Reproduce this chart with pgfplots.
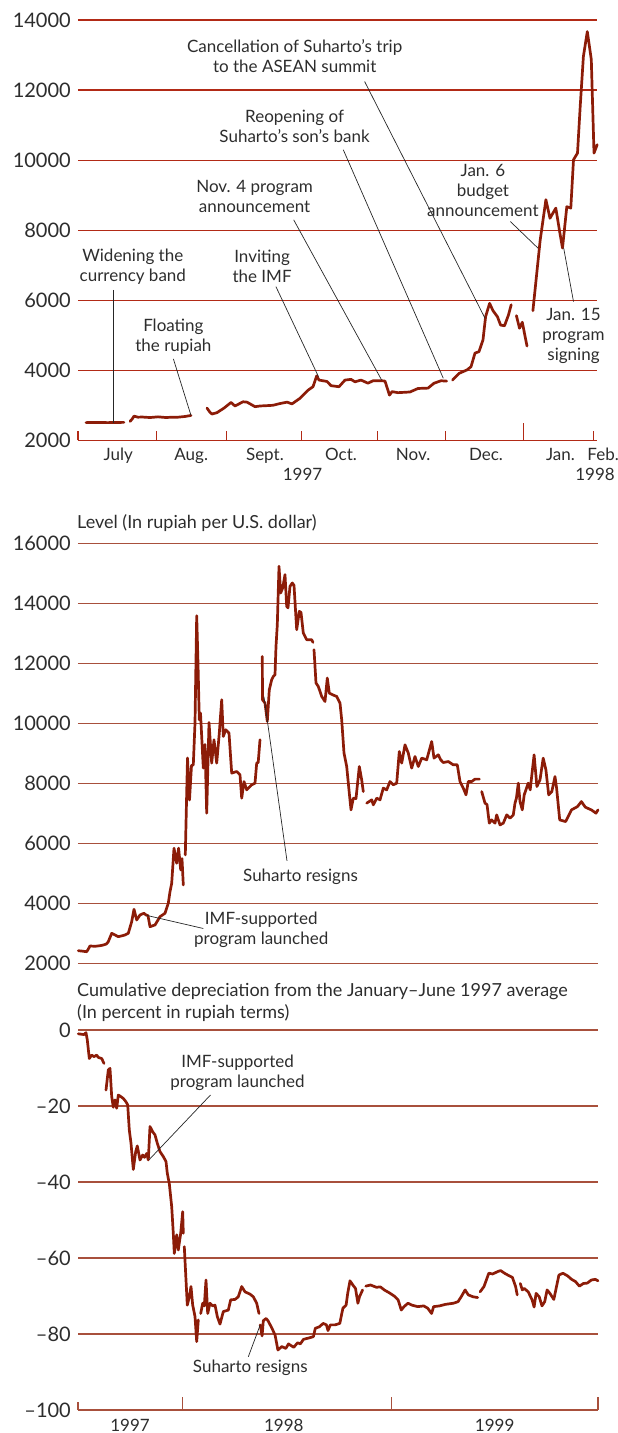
\documentclass[border=0pt]{standalone}
\usepackage{fontspec}
\setmainfont{Lato}
\usepackage{pgfplots}
\pgfplotsset{compat=1.18}
\definecolor{dataline}{RGB}{140,28,8}
\definecolor{gridA}{RGB}{178,42,22}
\definecolor{gridB}{RGB}{168,80,60}
\definecolor{txt}{RGB}{45,45,45}
\newcommand{\ann}{\fontsize{17}{20}\selectfont\color{txt}}
\tikzset{ld/.style={line width=0.7pt, black!85}}
\begin{document}
\begin{tikzpicture}
\useasboundingbox (0pt,0pt) rectangle (618pt,-1433pt);
\pgfplotsset{
  base/.style={
    scale only axis, clip=false,
    xmin=78, xmax=598,
    axis x line*=bottom, axis y line*=left,
    axis line style={draw=none},
    scaled y ticks=false, scaled x ticks=false,
    ymajorgrids,
    tick pos=left, tick align=inside,
    ytick style={draw=none},
    yticklabel style={anchor=east, inner sep=0pt, xshift=-7pt, font=\fontsize{20}{22}\selectfont, text=txt},
    xticklabel style={anchor=base, inner sep=0pt, yshift=-20.4pt, font=\fontsize{17}{20}\selectfont, text=txt},
    major tick length=0pt,
    unbounded coords=jump,
  },
  dl/.style={dataline, line width=2.7pt, line join=round, line cap=round},
}
% ---------------- Panel 1 ----------------
\begin{axis}[base, at={(78pt,-440.3pt)}, anchor=south west, width=519.2pt, height=420.3pt, xmax=597.2,
  ymin=2000, ymax=14000, ytick={2000,4000,6000,8000,10000,12000,14000},
  yticklabels={2000,4000,6000,8000,10000,12000,14000},
  grid style={line width=1.2pt, gridA},
  xtick={118.2,191.2,264.9,341,413.1,486,560.5},
  xticklabels={July,Aug.,Sept.,Oct.,Nov.,Dec.,Jan.},
  minor xtick={78,156.5,226.6,301.5,377.6,445.4,593.2},
  minor tick length=9pt,
  xtick style={line width=1.2pt, gridA},
  extra x ticks={523.1}, extra x tick labels={},
  extra x tick style={major tick length=17pt, xtick style={line width=1.2pt, gridA}},
]
\addplot[dl] coordinates {
(86,2505) (92,2510) (100,2508) (108,2505) (116,2510) (124,2512)
(125,nan)
(130,2540) (132,2600) (134,2690) (138,2660) (142,2665) (150,2650) (158,2670) (166,2650) (172,2660) (178,2660) (185,2680) (191,2710)
(200,nan)
(207,2920) (210,2800) (212,2750) (217,2790) (224,2920) (231,3080) (235,2980) (243,3100) (247,3090) (255,2960) (260,2980) (267,2990) (273,3000) (280,3050) (287,3090) (292,3040) (300,3200) (308,3430) (313,3530) (316.7,3840) (319,3720) (327,3680) (331,3560) (339,3530) (345,3720) (351,3740) (355,3670) (361,3720) (368,3630) (373,3700) (382,3700) (385,3690) (389.5,3290) (392,3390) (398,3360) (410,3380) (418,3480) (428,3490) (434,3630) (441,3700) (446.6,3690)
(450,nan)
(452.5,3720) (459,3910) (467,4010) (471,4100) (475,4490) (479,4530) (483,4870) (485.6,5530) (489.6,5910) (493,5700) (497.4,5530) (500.6,5290) (504.5,5270) (508.5,5580) (511.2,5870)
(514,nan)
(516.4,5560) (519.5,5200) (522.3,5370) (527,4690)
(530,nan)
(532.9,5700) (540.2,7720) (545.9,8870) (550,8340) (555.8,8630) (560,7900) (562.5,7490) (566.8,8670) (570.8,8630) (573.5,10010) (577.5,10200) (580.2,11530) (583.4,12960) (587.3,13670) (591.3,12870) (594,10200) (597.2,10440)
};
\node[anchor=base, inner sep=0pt, font=\fontsize{17}{20}\selectfont, text=txt] at (axis cs:603.1,2000) [yshift=-20.4pt] {Feb.};
\node[anchor=base, inner sep=0pt, font=\fontsize{17}{20}\selectfont, text=txt] at (axis cs:302.5,2000) [yshift=-40.2pt] {1997};
\node[anchor=base, inner sep=0pt, font=\fontsize{17}{20}\selectfont, text=txt] at (axis cs:595,2000) [yshift=-40.2pt] {1998};
% annotations
\node[align=center, font=\ann] at (axis cs:294.7,12960) {Cancellation of Suharto’s trip\\to the ASEAN summit};
\draw[ld] (axis cs:364.6,12245) -- (axis cs:485,5486);
\node[align=center, font=\ann] at (axis cs:294.6,10960) {Reopening of\\Suharto’s son’s bank};
\draw[ld] (axis cs:343.3,10294) -- (axis cs:443.3,3771);
\node[align=center, font=\ann] at (axis cs:254.6,8960) {Nov. 4 program\\announcement};
\draw[ld] (axis cs:293.7,8294) -- (axis cs:381.6,3723);
\node[align=center, font=\ann] at (axis cs:482.9,9128) {Jan. 6\\budget\\announcement};
\draw[ld] (axis cs:510.4,8245) -- (axis cs:538,7486);
\node[align=center, font=\ann] at (axis cs:573.5,4968) {Jan. 15\\program\\signing};
\draw[ld] (axis cs:573.5,5960) -- (axis cs:563.7,7486);
\node[align=center, font=\ann] at (axis cs:132.8,6960) {Widening the\\currency band};
\draw[ld] (axis cs:113.1,6294) -- (axis cs:113.1,2486);
\node[align=center, font=\ann] at (axis cs:173.4,4971) {Floating\\the rupiah};
\draw[ld] (axis cs:173.4,4323) -- (axis cs:191,2709);
\node[align=center, font=\ann] at (axis cs:262.1,6960) {Inviting\\the IMF};
\draw[ld] (axis cs:275.9,6389) -- (axis cs:318.5,3817);
\end{axis}
% ---------------- Panel 2 ----------------
\begin{axis}[base, at={(78pt,-963.7pt)}, anchor=south west, width=520pt, height=420.4pt,
  ymin=2000, ymax=16000, ytick={2000,4000,6000,8000,10000,12000,14000,16000},
  yticklabels={2000,4000,6000,8000,10000,12000,14000,16000},
  grid style={line width=1.2pt, gridB},
  xtick=\empty,
]
\addplot[dl] coordinates {
(78.3,2433) (82,2420) (86.7,2400) (88,2470) (90,2590) (95,2580) (100,2600) (103.3,2623) (106.4,2657) (108.3,2733) (111.7,3013) (115,2957) (118.3,2900) (122,2930) (125,2957) (128.3,3013) (131.7,3400) (134,3813) (136.7,3457) (140,3623) (143.9,3680) (146,3623) (148,3600) (150,3233) (155,3290) (160,3567) (165,3680) (168.3,4013) (170,4400) (171.7,4680) (174,5847) (176.7,5347) (178.6,5847) (180.7,5123) (182,5500) (183.3,4623)
(184.3,nan)
(185.3,5623) (187.5,8850) (189.5,7450) (191.5,8600) (193.3,8623) (195,10013) (196.7,13590) (198,12000) (199.3,10120) (200.5,10350) (201.7,9567) (203.3,8513) (205,9300) (206.7,7013) (209,10033) (211.7,8680) (214,9457) (216.7,8680) (219.3,9680) (221.7,10790) (223.3,9567) (225.7,9790) (229,9680) (231.7,8347) (236.7,8400) (240,8290) (241.7,7513) (244,8067) (246.7,7790) (251.7,7957) (255,8013) (256.7,8680) (258.2,8700) (260,9457)
(261,nan)
(262.3,12233) (262.5,10790) (265,10680) (267.3,10067) (269.3,11123) (271.7,11457) (273.3,11567) (275,11623) (276,12567) (277.3,13290) (279,15233) (280.7,14347) (282.7,14513) (285,14957) (286.7,13900) (288,13850) (290,14567) (292.3,14680) (294,14600) (296.7,13123) (299.3,13733) (301,13700) (303.3,13013) (306.7,12790) (311.7,12790) (313,12700)
(313.5,nan)
(314,12457) (316,11347) (318.3,11233) (321.7,10900) (325,10733) (327.3,11513) (329.3,11013) (333,10950) (336.7,10900) (340,10680) (341.7,10123) (344,9013) (346.7,8567) (349.3,7680) (351,7123) (353.3,7513) (356,7500) (359.3,8567) (361.7,8123) (363.3,7733)
(365,nan)
(366.7,7347) (371.7,7457) (373.3,7290) (376.7,7513) (380,7457) (383.3,7847) (386.7,7790) (390,8067) (393.3,7957) (396.7,8013) (399.3,9067) (401.7,8680) (405,9290) (408.3,9013) (411.7,8513) (415,8900) (418.3,8567) (421.7,8847) (426.7,8790) (431.7,9400) (434,8847) (438.3,8957) (440.7,8790) (443.3,8700) (448.3,8733) (453.3,8623) (457.3,8623) (460,8067) (463.3,7847) (466,7623) (468.3,8067) (471.7,8067) (475,8147) (479.3,8147)
(480.5,nan)
(481.7,7733) (485,7347) (487,7300) (489.3,6680) (491.7,6790) (495,6680) (496.7,6957) (500,6623) (503.3,6680) (506.7,6957) (510,6847) (513.3,6957) (515,7347) (516.4,7513) (518.3,8013) (520,7400) (522.3,7123) (524.2,7623) (528.2,8013) (530.2,7790) (534.1,8957) (536.9,7900) (540,8123) (543.2,8847) (545.9,8457) (548.7,7623) (551.8,7733) (555,8233) (556.6,7847) (559.7,6790) (565.6,6733) (571.5,7123) (577.5,7233) (581.4,7400) (585.3,7213) (591.3,7123) (596,7013) (598,7123)
};
\node[anchor=west, inner sep=0pt, font=\fontsize{18}{20}\selectfont, text=txt] at (axis cs:77,16680) {Level (In rupiah per U.S. dollar)};
\node[align=center, font=\ann] at (axis cs:300.5,4900) {Suharto resigns};
\draw[ld] (axis cs:287,5423) -- (axis cs:264,10890);
\node[align=center, font=\ann] at (axis cs:261.2,3123) {IMF-supported\\program launched};
\draw[ld] (axis cs:203.3,3173) -- (axis cs:147,3607);
\end{axis}
% ---------------- Panel 3 ----------------
\begin{axis}[base, at={(78pt,-1410pt)}, anchor=south west, width=520pt, height=380pt,
  ymin=-100, ymax=0, ytick={-100,-80,-60,-40,-20,0},
  yticklabels={\textendash100,\textendash80,\textendash60,\textendash40,\textendash20,0},
  grid style={line width=1.2pt, gridB},
  xtick={130,283.8,494.7}, xticklabels={1997,1998,1999},
  xticklabel style={yshift=-1.3pt},
  minor xtick={182.5,391.4,598},
  minor tick length=13pt,
  xtick style={line width=1.2pt, gridB},
  extra x ticks={78}, extra x tick labels={},
  extra x tick style={major tick length=8pt, xtick style={line width=1.2pt, gridB}},
]
\addplot[dl] coordinates {
(78.3,-1.0) (84,-1.2) (86,-0.7) (87.3,-2.6) (89.3,-7.5) (91.7,-6.6) (94,-7.0) (96.7,-6.6) (98.3,-7.2) (101.7,-7.5) (104,-8.8)
(105,nan)
(106,-15.8) (108.3,-10.5) (110,-10.1) (111.7,-17.5) (113.3,-20.3) (115,-18.4) (116.7,-20.6) (118.3,-17.1) (120.7,-17.5) (123.3,-18) (126,-18.9) (127.7,-19.7) (129.3,-26.3) (131,-29.8) (133.3,-36.7) (135.7,-32) (137.3,-30.5) (140,-34.2) (142.7,-32.9) (144.5,-33.5) (146.7,-32.5) (148.3,-34.2) (150,-25.4) (152.7,-26.8) (155,-27.6) (157.3,-29.8) (160,-32) (163.3,-33.3) (166,-34.6) (167.3,-37.7) (169.3,-40.4) (171.7,-46.5) (173.3,-53.5) (174.3,-58.8) (176.7,-53.9) (178.3,-57.9) (180.7,-53.5) (182.7,-47.8) (183.3,-53.5)
(183.8,nan)
(184.3,-57) (186,-65.8) (187.3,-72.4) (189.3,-70.2) (191,-67.5) (192.7,-72.4) (195,-75.4) (196.7,-82) (198.3,-76.3)
(199.5,nan)
(200.7,-74.6) (202.7,-71.9) (204.3,-72.6) (206,-65.8) (207.7,-74.6) (210,-71.9) (212.7,-72.6) (215,-72.4) (217.3,-75.4) (220,-77.4) (223.3,-74.1) (228.3,-73.7) (230.7,-71) (235,-70.9) (238.3,-70.2) (241.7,-67.5) (245,-68.9) (250,-69.5) (253.3,-70.2) (256.7,-71.9) (259,-74.6)
(259.6,nan)
(260.2,-77.6) (262.1,-80.5) (263.3,-76.5) (266.1,-75.9) (268,-76.5) (272,-78.5) (275.1,-80.3) (277.9,-84.2) (281.8,-83.3) (285.8,-83.8) (288.5,-82.6) (293.7,-83.5) (297.6,-82.3) (300.3,-82.6) (303.5,-81.4) (309.4,-81) (313.4,-80.7) (315.3,-78.5) (319.3,-78.1) (323.2,-77.2) (326.4,-77.6) (328,-79.1) (330.3,-77.6) (335,-77.6) (339.8,-77.2) (342.9,-73.2) (346.1,-72.4) (347.7,-69.3) (350,-66) (352.8,-67.1) (355.5,-68) (357.9,-71.9) (359.5,-70.2) (362.6,-68.4)
(364,nan)
(365.8,-67.4) (370.5,-67.1) (376.4,-67.7) (380.4,-67.6) (384.3,-68.4) (390.2,-69.3) (394.2,-70) (398.1,-71) (401.3,-73.7) (404,-72.8) (408,-71.9) (411.9,-72.4) (417.8,-72.8) (423.7,-72.6) (427.7,-73.2) (431.6,-74.6) (433.6,-72.8) (439.5,-72.6) (445.4,-72.2) (453.3,-71.9) (458,-71.5) (461.2,-70.2) (465.1,-68.4) (468.3,-69.7) (473,-70.2) (477.7,-70.4)
(479,nan)
(480.1,-68.9) (484,-67.5) (488.8,-64) (492.7,-64.2) (497.4,-63.6) (500.6,-63.3) (504.5,-64) (509.3,-64.7) (512.4,-65.1) (515.6,-67.5) (517.2,-69.7)
(518.8,nan)
(520.3,-66.7) (522.3,-68.4) (524.2,-68) (528.2,-68.9) (532.1,-71) (534.1,-72.9) (536.1,-69.3) (539.2,-70.2) (542,-72.6) (544.7,-71.5) (547.1,-68.4) (549.9,-69.3) (553.8,-70.9) (555.8,-68.4) (558.9,-64.5) (562.9,-64) (567.6,-64.7) (571.5,-65.6) (575.5,-66.2) (579.4,-67.4) (583.4,-66.7) (587.3,-66.6) (591.3,-65.8) (595.2,-65.6) (598,-66)
};
\node[anchor=west, align=left, inner sep=0pt, font=\fontsize{18}{21.6}\selectfont, text=txt] at (axis cs:77,7.2) {Cumulative depreciation from the January–June 1997 average\\(In percent in rupiah terms)};
\node[align=center, font=\ann] at (axis cs:237.5,-11.2) {IMF-supported\\program launched};
\draw[ld] (axis cs:210.5,-17.1) -- (axis cs:149.2,-34.1);
\node[align=center, font=\ann] at (axis cs:250.3,-88.8) {Suharto resigns};
\draw[ld] (axis cs:248.3,-86) -- (axis cs:260.2,-77.6);
\end{axis}
\end{tikzpicture}
\end{document}
